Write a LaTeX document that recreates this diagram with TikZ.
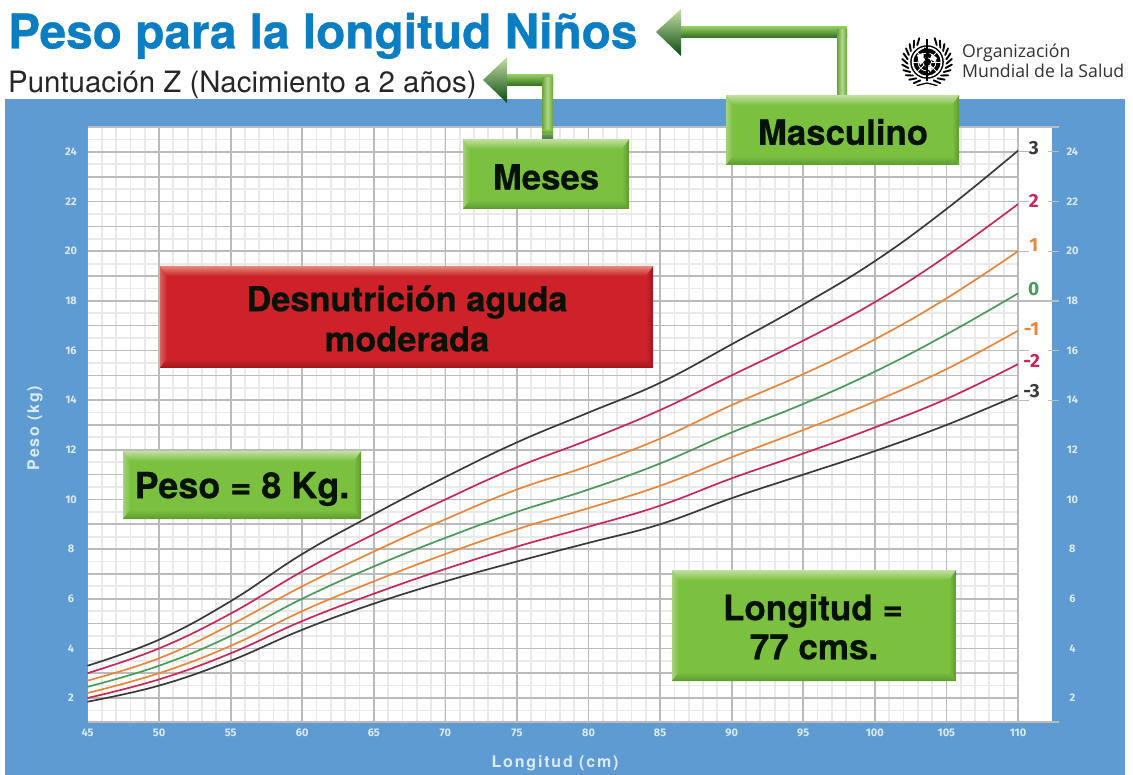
\documentclass[tikz,border=0pt]{standalone}
\usepackage{fontspec}
\setmainfont[BoldFeatures={FakeBold=0.5}]{TeX Gyre Heros}
\newfontfamily\titlefont[BoldFeatures={FakeBold=0.8}]{TeX Gyre Heros}
\newfontfamily\spacedfont[LetterSpace=11.5]{TeX Gyre Heros}
\newfontfamily\logofont{Open Sans}
\newfontfamily\axisfont{Fira Sans}
\definecolor{panelblue}{HTML}{5E9BD3}
\definecolor{titleblue}{HTML}{0B7EC3}
\definecolor{boxgreen}{HTML}{7CC040}
\definecolor{boxlight}{HTML}{C3E0A3}
\definecolor{boxdark}{HTML}{5C9A30}
\definecolor{deepgreen}{HTML}{0B4A12}
\definecolor{boxred}{HTML}{CD2229}
\definecolor{redlight}{HTML}{E58A7A}
\definecolor{reddark}{HTML}{9C181E}
\definecolor{zblack}{HTML}{3A3A3C}
\definecolor{zred}{HTML}{C8285A}
\definecolor{zorange}{HTML}{E8873C}
\definecolor{zgreen}{HTML}{4A9A5A}
\definecolor{gridmajor}{HTML}{BBBBBB}
\definecolor{gridminor}{HTML}{E9E9E9}
\definecolor{ticktext}{HTML}{DCEBF7}
\definecolor{inktext}{HTML}{061206}
\tikzset{
  x=1pt,y=-1pt,
  boxtext/.style={font=\fontsize{#1}{#1}\selectfont\bfseries,text=inktext,align=center,inner sep=0pt},
  ticklab/.style={font=\axisfont\fontsize{11}{11}\selectfont\bfseries,text=ticktext,inner sep=0pt},
  axislab/.style={font=\spacedfont\fontsize{16}{16}\selectfont\bfseries,text=ticktext,inner sep=0pt},
  zlab/.style={font=\axisfont\fontsize{19}{19}\selectfont\bfseries,inner sep=0pt},
  zcurve/.style={line width=1.7pt,line join=round},
}
% bevelled box with mitred edges: x0,y0,x1,y1, fill, light, dark
\newcommand{\bevelbox}[7]{%
  \fill[#5] (#1,#2) rectangle (#3,#4);
  \shade[left color=#6,right color=#5,opacity=.6] (#1,#2) -- (#1+7,#2+10) -- (#1+7,#4-9) -- (#1,#4) -- cycle;
  \shade[left color=#5,right color=#7] (#3-7,#2+10) -- (#3,#2) -- (#3,#4) -- (#3-7,#4-9) -- cycle;
  \shade[top color=#6,bottom color=#5] (#1,#2) -- (#3,#2) -- (#3-7,#2+10) -- (#1+7,#2+10) -- cycle;
  \shade[top color=#5,bottom color=#7] (#1+7,#4-9) -- (#3-7,#4-9) -- (#3,#4) -- (#1,#4) -- cycle;
}
\begin{document}
\begin{tikzpicture}
\useasboundingbox (0,0) rectangle (1133,775);
\fill[white] (0,0) rectangle (1133,775);
% panel and plot
\fill[panelblue] (5,99) rectangle (1125,775);
\fill[white] (87,128) rectangle (1052,722);
\begin{scope}[shift={(87.5pt,-747.64pt)},x=14.315pt,y=24.82pt]
  \foreach \v in {1,...,64}{\draw[gridminor,line width=1.8pt] (\v,1.04) -- (\v,25);}
  \foreach \v in {1.5,2.5,...,24.5}{\draw[gridminor,line width=1.8pt] (0,\v) -- (65,\v);}
  \foreach \v in {5,10,...,60}{\draw[gridmajor,line width=1.7pt] (\v,1.04) -- (\v,25);}
  \foreach \v in {2,...,24}{\draw[gridmajor,line width=1.6pt] (0,\v) -- (65,\v);}
  \draw[gridmajor,line width=1.7pt] (65,1.04) -- (65,25);
  \draw[gridmajor,line width=1.5pt] (0,25) -- (67.9,25);
  \draw[gridmajor,line width=1.5pt] (0,1.04) -- (67.9,1.04);
  \draw[zorange!70!gray,line width=1.2pt] (0,1.04) -- (0,25);
  \foreach \v in {14,16,20,22,24}{\draw[gridmajor,line width=1pt] (65,\v) -- (65.8,\v) (67.1,\v) -- (67.9,\v);}
  \draw[gridmajor,line width=1.4pt] (65,18) -- (67.9,18);
  % curves
  \draw[zcurve,zblack] plot[smooth,tension=.7] coordinates {(0,3.3)(5,4.35)(10,5.9)(15,7.8)(20,9.4)(25,10.9)(30,12.3)(35,13.5)(40,14.7)(45,16.25)(50,17.85)(55,19.6)(60,21.7)(65,24.05)};
  \draw[zcurve,zred] plot[smooth,tension=.7] coordinates {(0,3.0)(5,4.0)(10,5.4)(15,7.1)(20,8.6)(25,10.0)(30,11.3)(35,12.4)(40,13.6)(45,15.0)(50,16.4)(55,17.95)(60,19.8)(65,21.9)};
  \draw[zcurve,zorange] plot[smooth,tension=.7] coordinates {(0,2.7)(5,3.6)(10,4.95)(15,6.5)(20,7.9)(25,9.2)(30,10.4)(35,11.35)(40,12.45)(45,13.8)(50,15.05)(55,16.45)(60,18.1)(65,20.0)};
  \draw[zcurve,zgreen] plot[smooth,tension=.7] coordinates {(0,2.45)(5,3.3)(10,4.5)(15,6.0)(20,7.3)(25,8.45)(30,9.5)(35,10.4)(40,11.45)(45,12.7)(50,13.85)(55,15.15)(60,16.65)(65,18.3)};
  \draw[zcurve,zorange] plot[smooth,tension=.7] coordinates {(0,2.2)(5,3.0)(10,4.1)(15,5.5)(20,6.7)(25,7.8)(30,8.8)(35,9.65)(40,10.55)(45,11.7)(50,12.8)(55,13.95)(60,15.25)(65,16.8)};
  \draw[zcurve,zred] plot[smooth,tension=.7] coordinates {(0,2.0)(5,2.75)(10,3.8)(15,5.1)(20,6.2)(25,7.2)(30,8.1)(35,8.9)(40,9.75)(45,10.85)(50,11.85)(55,12.9)(60,14.05)(65,15.45)};
  \draw[zcurve,zblack] plot[smooth,tension=.7] coordinates {(0,1.85)(5,2.5)(10,3.5)(15,4.75)(20,5.8)(25,6.7)(30,7.5)(35,8.25)(40,9.0)(45,10.05)(50,11.0)(55,11.95)(60,13.0)(65,14.2)};
  % tick labels
  \foreach \v in {2,4,...,24}{
    \node[ticklab] (yl\v) at (-1.15,\v) {\v};
    \node[ticklab] (yr\v) at (68.8,\v) {\v};
  }
  \foreach \v in {45,50,...,110}{
    \node[ticklab] (xl\v) at ({\v-45},0.6) {\v};
  }
  % z labels
  \node[zlab,text=zblack] (z3) at (66.1,24.16) {3};
  \node[zlab,text=zred] (z2) at (66.1,22.02) {2};
  \node[zlab,text=zorange] (z1) at (66.1,20.25) {1};
  \node[zlab,text=zgreen] (z0) at (66.1,18.48) {0};
  \node[zlab,text=zorange] (zm1) at (65.95,16.87) {-1};
  \node[zlab,text=zred] (zm2) at (65.95,15.58) {-2};
  \node[zlab,text=zblack] (zm3) at (65.95,14.37) {-3};
\end{scope}
\node[axislab,rotate=90] (ylab) at (35,428) {Peso (kg)};
\node[axislab] (xlab) at (555,763) {Longitud (cm)};
% titles
\node[anchor=base west,inner sep=0pt,text=titleblue,font=\titlefont\fontsize{47.8}{48}\selectfont\bfseries] (title) at (8,48.5) {Peso para la longitud Niños};
\node[anchor=base west,inner sep=0pt,text=black!85,font=\fontsize{29.4}{30}\selectfont] (sub) at (8,93) {Puntuación Z (Nacimiento a 2 años)};
% logo
\begin{scope}[shift={(927pt,-62pt)}]
  \foreach \a in {20,33,...,150}{
    \draw[black,line width=1.9pt,line cap=round] (\a+90:19.5) -- (\a+102:25);
    \draw[black,line width=1.9pt,line cap=round] (90-\a:19.5) -- (78-\a:25);
  }
  \fill[white] (0,0) circle (17.5);
  \fill[black] (0,0) circle (16.8);
  \fill[white] (0,0) circle (15.3);
  \fill[black] (0,0) circle (13.5);
  \foreach \a in {0,45,...,315}{\draw[white,line width=.8pt] (\a:4) -- (\a:15.3);}
  \draw[white,line width=.8pt] (0,0) circle (9) (0,0) circle (4.5);
  \fill[white] (-10,-7) -- (-4,-9) -- (-2,-2) -- (-7,3) -- cycle;
  \fill[white] (5,-8) -- (10,-4) -- (8,0) -- (3,-3) -- cycle;
  \fill[white] (-1,5) -- (5,4) -- (4,10) -- (1,11) -- cycle;
  \draw[white,line width=2.6pt] (0,-22) -- (0,18);
  \draw[black,line width=1.7pt] (0,-23) -- (0,19);
  \draw[black,line width=1.1pt] plot[smooth] coordinates {(-3,-14)(3,-10)(-3,-5)(3,0)(-3,5)(3,10)(0,14)};
  \draw[black,line width=1.3pt,line cap=round] (0,21) -- (-10,23.5) (0,21) -- (10,23.5);
\end{scope}
\node[anchor=base west,inner sep=0pt,text=black!80,font=\logofont\fontsize{17.7}{18}\selectfont] (who1) at (962,58) {Organización};
\node[anchor=base west,inner sep=0pt,text=black!80,font=\logofont\fontsize{17.7}{18}\selectfont] (who2) at (962,78) {Mundial de la Salud};
% Masculino connector
\shade[top color=boxgreen!85!white,bottom color=deepgreen!70!boxgreen] (681,27) rectangle (847,38);
\shade[left color=boxgreen!85!black,right color=boxgreen!85!black,middle color=boxgreen!60!white] (837,30) rectangle (847,96);
\shade[top color=boxlight,middle color=boxgreen,bottom color=deepgreen] (656,32) -- (681,9) -- (681,56) -- cycle;
% Meses connector
\shade[top color=boxgreen!85!white,bottom color=deepgreen!70!boxgreen] (507,75) rectangle (553,86);
\shade[left color=boxgreen!85!black,right color=boxgreen!85!black,middle color=boxgreen!60!white] (542,78) rectangle (553,133);
\shade[top color=boxgreen,bottom color=deepgreen,opacity=.8] (542,130) rectangle (553,139);
\shade[top color=boxlight,middle color=boxgreen,bottom color=deepgreen] (483,80) -- (507,57) -- (507,103) -- cycle;
% boxes
\bevelbox{726}{95}{959}{165}{boxgreen}{boxlight}{boxdark}
\node[boxtext=34.8] (masc) at (843,132) {Masculino};
\bevelbox{463}{139}{629}{209}{boxgreen}{boxlight}{boxdark}
\node[boxtext=34.8] (meses) at (546,177) {Meses};
\bevelbox{160}{266}{653}{368}{boxred}{redlight}{reddark}
\node[boxtext=34.4] (red1) at (407,302) {Desnutrición aguda};
\node[boxtext=34.4] (red2) at (407,339) {moderada};
\bevelbox{123}{451}{361}{519}{boxgreen}{boxlight}{boxdark}
\node[boxtext=36] (peso) at (242,489) {Peso = 8 Kg.};
\bevelbox{672}{570}{956}{681}{boxgreen}{boxlight}{boxdark}
\node[boxtext=35] (lon1) at (813,611) {Longitud =};
\node[boxtext=35] (lon2) at (814,647) {77 cms.};
\end{tikzpicture}
\end{document}
